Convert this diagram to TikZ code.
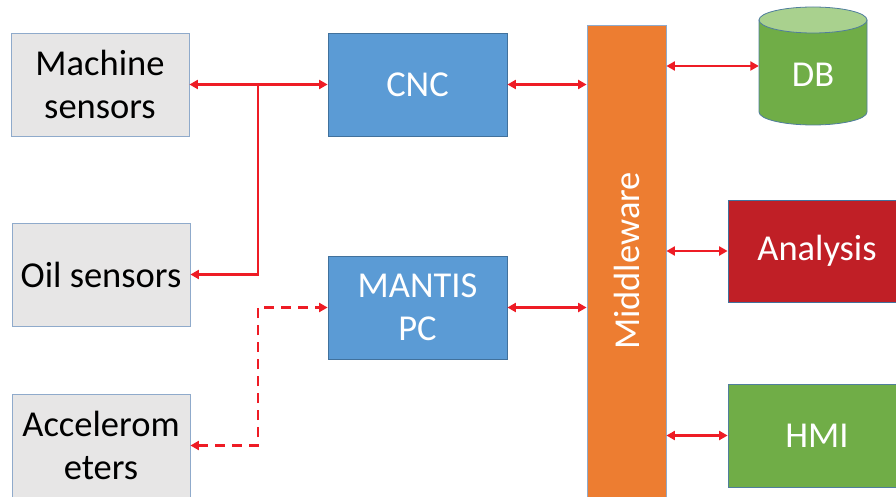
\documentclass[tikz,border=0pt]{standalone}
\usepackage{fontspec}
\setmainfont{Carlito}
\usetikzlibrary{arrows.meta}
\definecolor{boxgray}{HTML}{E7E6E6}
\definecolor{grayline}{HTML}{8FAACB}
\definecolor{cblue}{HTML}{5B9BD5}
\definecolor{cblueline}{HTML}{41719C}
\definecolor{corange}{HTML}{ED7D31}
\definecolor{corangeline}{HTML}{8FAACB}
\definecolor{cgreen}{HTML}{70AD47}
\definecolor{cgreenline}{HTML}{507E9C}
\definecolor{cgreenlight}{HTML}{A9D18E}
\definecolor{cred}{HTML}{C01F26}
\definecolor{arrred}{HTML}{EE1C25}
\tikzset{
  boxfont/.style={font=\fontsize{36.5}{43.5}\selectfont},
  basebox/.style={rectangle, inner sep=0pt, align=center, line width=0.8pt, boxfont},
  graybox/.style={basebox, fill=boxgray, draw=grayline, text=black,
    minimum width=178pt, minimum height=103pt},
  bluebox/.style={basebox, fill=cblue, draw=cblueline, text=white,
    minimum width=179pt, minimum height=103pt},
  redbox/.style={basebox, fill=cred, draw=cblueline, text=white,
    minimum width=178pt, minimum height=102pt},
  greenbox/.style={basebox, fill=cgreen, draw=cgreenline, text=white,
    minimum width=178pt, minimum height=103pt},
  mwbox/.style={basebox, fill=corange, draw=corangeline,
    minimum width=79pt, minimum height=472pt},
  conn/.style={draw=arrred, line width=2.8pt,
    {Triangle[length=8.5pt,width=9pt]}-{Triangle[length=8.5pt,width=9pt]}},
  connone/.style={draw=arrred, line width=2.8pt, -{Triangle[length=8.5pt,width=9pt]}},
  dashconn/.style={conn, dash pattern=on 10pt off 7pt},
}
\begin{document}
\begin{tikzpicture}[x=1pt,y=-1pt]
\useasboundingbox (0,0) rectangle (896,497);
\clip (0,0) rectangle (896,497);
\fill[white] (0,0) rectangle (896,497);

% left column
\node[graybox] (ms) at (100,84.5) {Machine\\sensors};
\node[graybox] (oil) at (101,274.5) {Oil sensors};
\node[graybox] (acc) at (101,445.5) {Accelerom\\eters};

% middle column
\node[bluebox] (cnc) at (417.5,84.5) {CNC};
\node[bluebox] (mantis) at (417.5,307.5) {MANTIS\\PC};

% middleware
\node[mwbox] (mw) at (626.5,261) {};
\node[rotate=90, text=white, boxfont, inner sep=0pt] (mwlabel) at (mw.center) {Middleware};

% DB cylinder
\node[minimum width=108pt, minimum height=118pt, inner sep=0pt] (db) at (813,66) {};
\fill[cgreen, draw=cgreenline, line width=0.8pt]
  (759,20) -- (759,112) arc[start angle=180, end angle=360, x radius=54pt, y radius=13pt]
  -- (867,20) -- cycle;
\fill[cgreenlight, draw=cgreenline, line width=0.8pt] (813,20) ellipse[x radius=54pt, y radius=13pt];
\node[text=white, boxfont, inner sep=0pt] (dblabel) at (813,75) {DB};

% right column
\node[redbox] (ana) at (817,251) {Analysis};
\node[greenbox] (hmi) at (817,435.5) {HMI};

% connectors
\coordinate (j) at (258,84.5);
\coordinate (jd) at (258,307.5);
\draw[conn] (ms.east) -- (cnc.west);
\draw[connone] (j) |- (oil.east);
\draw[dashconn] (acc.east) -| (jd) -- (mantis.west);
\draw[conn] (cnc.east) -- (mw.west |- cnc.east);
\draw[conn] (mantis.east) -- (mw.west |- mantis.east);
\draw[conn] (mw.east |- db.west) -- (db.west);
\draw[conn] (mw.east |- ana.west) -- (ana.west);
\draw[conn] (mw.east |- hmi.west) -- (hmi.west);
\end{tikzpicture}
\end{document}
